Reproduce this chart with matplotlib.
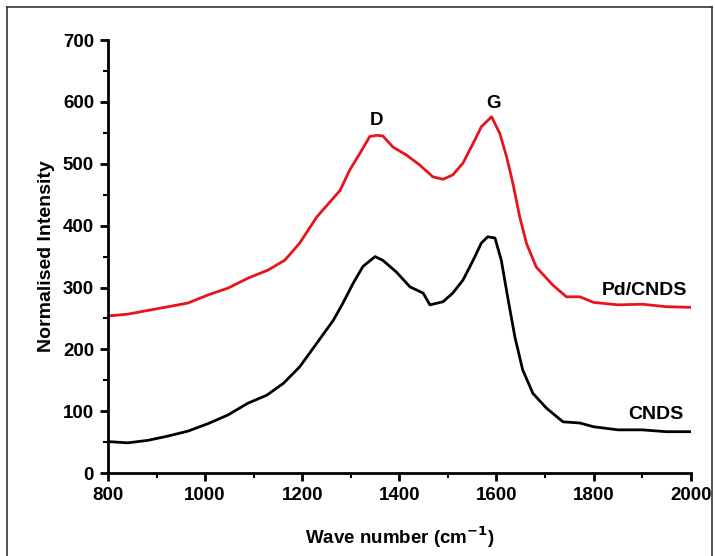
import numpy as np
import matplotlib.pyplot as plt
from matplotlib.lines import Line2D

plt.rcParams['font.family'] = ['Liberation Sans', 'DejaVu Sans']
plt.rcParams['font.weight'] = 'bold'

# Raman spectra
wave_pd = [800, 841, 882, 924, 965, 1006, 1047, 1088, 1129, 1164, 1195, 1230,
           1278, 1298, 1319, 1339, 1353, 1366, 1387, 1415, 1442, 1469, 1490,
           1510, 1531, 1552, 1569, 1590, 1607, 1621, 1634, 1648, 1662, 1682,
           1716, 1744, 1772, 1800, 1850, 1900, 1950, 2000]
pd_cnds = [254, 257, 263, 269, 275, 288, 299, 315, 328, 344, 372, 414,
           457, 490, 517, 544, 546, 545, 527, 514, 498, 479, 475,
           482, 501, 533, 560, 576, 549, 511, 468, 414, 371, 333,
           304, 285, 285, 276, 272, 273, 269, 268]

wave_cnds = [800, 841, 882, 924, 965, 1006, 1047, 1088, 1127, 1161, 1195, 1230,
             1264, 1284, 1305, 1325, 1350, 1366, 1394, 1422, 1449, 1463, 1490,
             1510, 1531, 1552, 1569, 1582, 1597, 1610, 1623, 1638, 1654, 1675,
             1703, 1737, 1772, 1800, 1850, 1900, 1950, 2000]
cnds = [51, 49, 53, 60, 68, 80, 94, 113, 126, 145, 172, 210,
        247, 275, 307, 334, 350, 344, 325, 301, 291, 272, 277,
        291, 312, 344, 372, 382, 380, 344, 285, 220, 167, 129,
        105, 83, 81, 75, 70, 70, 67, 67]

fig = plt.figure(figsize=(7.15, 5.56), dpi=100)
ax = fig.add_axes([0.151, 0.149, 0.815, 0.779])

ax.plot(wave_pd, pd_cnds, color='#e8141b', lw=2)
ax.plot(wave_cnds, cnds, color='black', lw=2)

ax.text(1354, 570, 'D', ha='center', va='center', fontsize=13.5, fontweight='bold')
ax.text(1593, 597, 'G', ha='center', va='center', fontsize=13.5, fontweight='bold')
ax.text(1905, 296, 'Pd/CNDS', ha='center', va='center', fontsize=14, fontweight='bold')
ax.text(1928, 94, 'CNDS', ha='center', va='center', fontsize=14, fontweight='bold')

ax.set_xlim(800, 2000)
ax.set_ylim(0, 700)
ax.set_xticks(np.arange(800, 2001, 200))
ax.set_xticks(np.arange(900, 2000, 200), minor=True)
ax.set_yticks(np.arange(0, 701, 100))
ax.set_yticks(np.arange(50, 700, 100), minor=True)
ax.tick_params(which='major', direction='out', length=6, width=2, labelsize=13.5, pad=4)
ax.tick_params(which='minor', direction='out', length=3.5, width=1.5)
for lab in ax.get_xticklabels() + ax.get_yticklabels():
    lab.set_fontweight('bold')

ax.spines['top'].set_visible(False)
ax.spines['right'].set_visible(False)
ax.spines['left'].set_linewidth(2)
ax.spines['bottom'].set_linewidth(2)

ax.set_xlabel('Wave number (cm$^{\\mathbf{-1}}$)', fontsize=13.5, fontweight='bold', labelpad=15)
ax.set_ylabel('Normalised Intensity', fontsize=14, fontweight='bold', labelpad=6)

# thin frame around the picture
fx0, fx1, fy1 = 7 / 715, 712 / 715, 1 - 7 / 556
fig.add_artist(Line2D([fx0, fx0], [0, fy1], color='#333333', lw=1.2, transform=fig.transFigure))
fig.add_artist(Line2D([fx0, fx1], [fy1, fy1], color='#333333', lw=1.2, transform=fig.transFigure))
fig.add_artist(Line2D([fx1, fx1], [0, fy1], color='#333333', lw=1.2, transform=fig.transFigure))

fig.savefig('out.png', dpi=100)
